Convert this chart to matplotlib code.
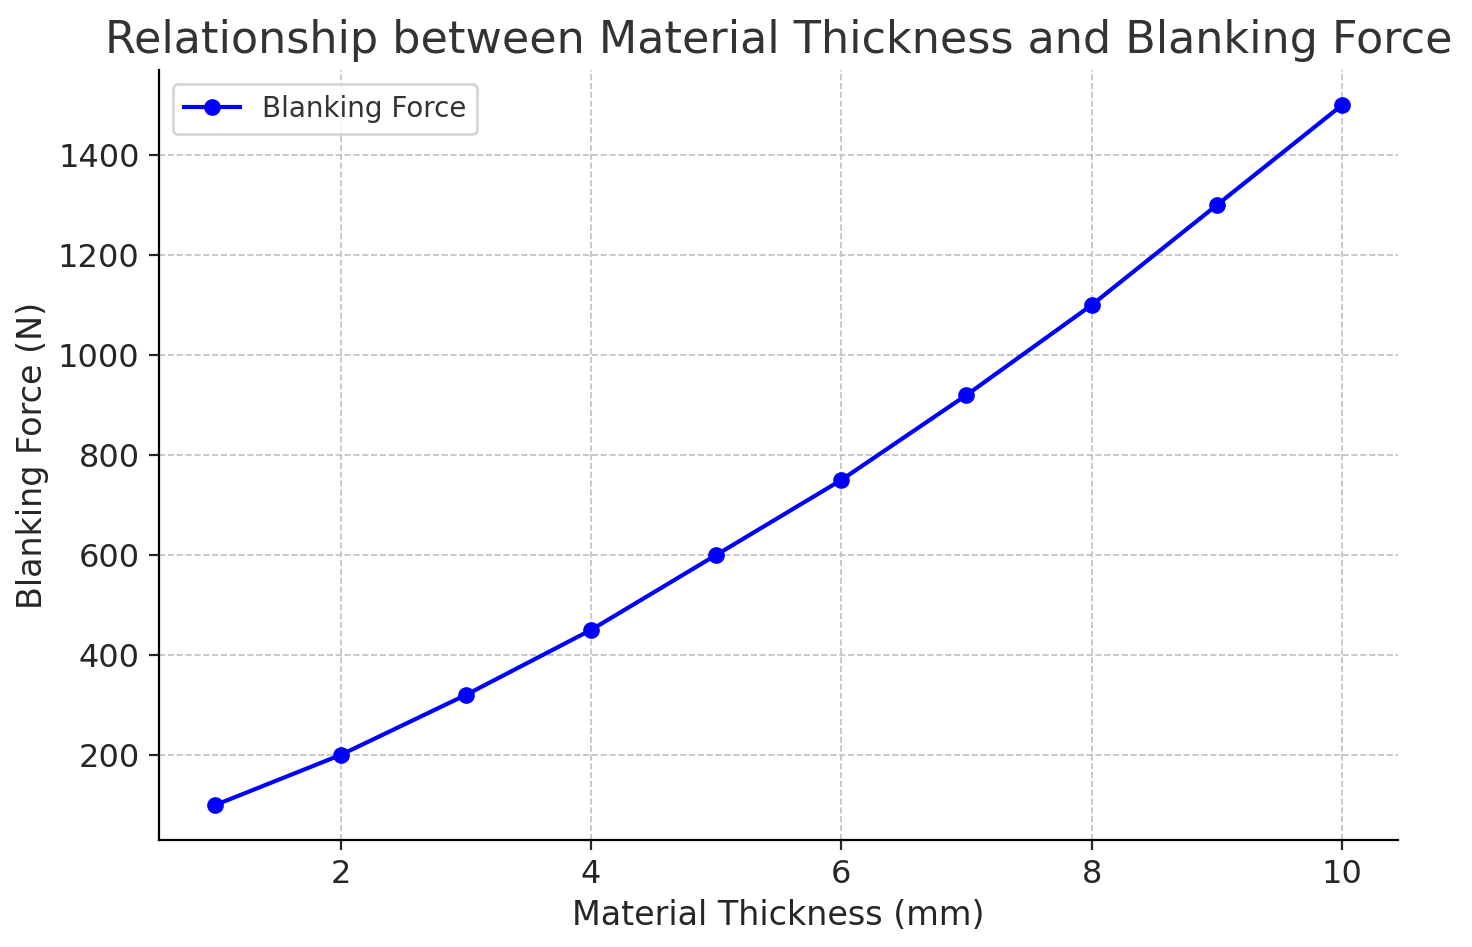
import matplotlib
matplotlib.use("Agg")
from matplotlib import pyplot as plt

thickness = [1, 2, 3, 4, 5, 6, 7, 8, 9, 10]
force = [100, 200, 320, 450, 600, 750, 920, 1100, 1300, 1500]

fig = plt.figure(figsize=(7.36, 4.735), dpi=200)
ax = fig.add_axes([0.108, 0.113, 0.842, 0.813])

ax.plot(thickness, force, '-o', color='blue', markersize=5, linewidth=1.5, label='Blanking Force')

ax.set_title('Relationship between Material Thickness and Blanking Force', fontsize=16, color='#333333')
ax.set_xlabel('Material Thickness (mm)', fontsize=12, color='#262626', labelpad=3)
ax.set_ylabel('Blanking Force (N)', fontsize=12, color='#262626', labelpad=3)
ax.tick_params(labelsize=11.5, colors='#262626', length=3.5)
ax.grid(True, linestyle='--', linewidth=0.6, color='#c0c0c0')
ax.spines['top'].set_visible(False)
ax.spines['right'].set_visible(False)
ax.legend(loc='upper left', fontsize=10, labelcolor='#333333')

fig.savefig('out.png', dpi=200)
